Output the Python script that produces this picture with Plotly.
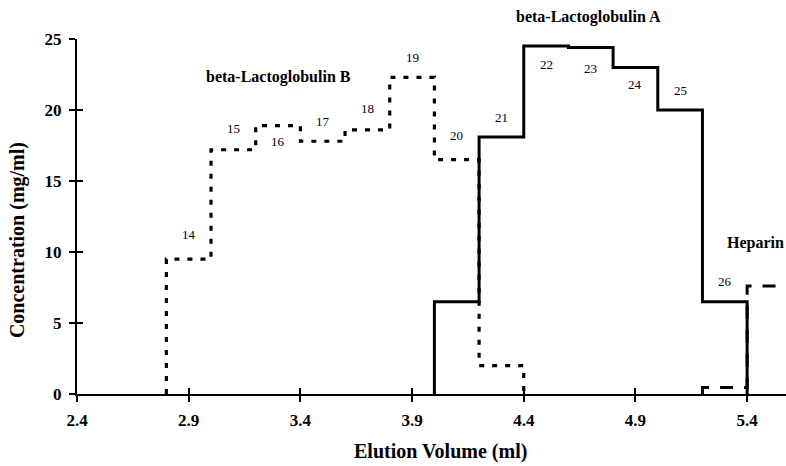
import plotly.graph_objects as go

# Fraction boundaries (ml) and measured concentrations (mg/ml)
b_edges = [2.8, 3.0, 3.2, 3.4, 3.6, 3.8, 4.0, 4.2, 4.4]
b_conc = [9.5, 17.2, 18.9, 17.8, 18.6, 22.3, 16.5, 2.0]

a_edges = [4.0, 4.2, 4.4, 4.6, 4.8, 5.0, 5.2, 5.4]
a_conc = [6.5, 18.1, 24.5, 24.4, 23.0, 20.0, 6.5]

hep_edges = [5.2, 5.4, 5.6]
hep_conc = [0.45, 7.6]

# Fraction numbers and the fraction they belong to (start volume)
fraction_ids = [14, 15, 16, 17, 18, 19, 20, 21, 22, 23, 24, 25, 26]
fraction_start = [2.8, 3.0, 3.2, 3.4, 3.6, 3.8, 4.0, 4.2, 4.4, 4.6, 4.8, 5.0, 5.2]
fraction_width = 0.2

x_ticks = [2.4, 2.9, 3.4, 3.9, 4.4, 4.9, 5.4]
y_ticks = [0, 5, 10, 15, 20, 25]

# label heights for the fraction numbers (layout only)
label_y = [11.2, 18.7, 17.75, 19.2, 20.1, 23.7, 18.2, 19.5, 23.2, 22.9, 21.8, 21.4, 7.9]

SERIF = "Liberation Serif"


def step_points(edges, vals, close=True):
    xs = [edges[0]] + edges[:-1] + [edges[-1]]
    ys = [0] + vals + [0 if close else vals[-1]]
    return xs, ys


fig = go.Figure()

bx, by = step_points(b_edges, b_conc)
fig.add_trace(go.Scatter(x=bx, y=by, mode="lines", line_shape="hv",
                         line=dict(color="black", width=3.2, dash="5px,8px"),
                         showlegend=False, hoverinfo="skip"))

ax_, ay_ = step_points(a_edges, a_conc)
fig.add_trace(go.Scatter(x=ax_, y=ay_, mode="lines", line_shape="hv",
                         line=dict(color="black", width=3),
                         showlegend=False, hoverinfo="skip"))

hx, hy = step_points(hep_edges, hep_conc, close=False)
fig.add_trace(go.Scatter(x=hx, y=hy, mode="lines", line_shape="hv",
                         line=dict(color="black", width=3, dash="13px,11px"),
                         showlegend=False, hoverinfo="skip"))

# invisible trace on the overlay axes that carry the inner tick halves
fig.add_trace(go.Scatter(x=[x_ticks[0]], y=[0], xaxis="x2", yaxis="y2",
                         mode="markers", marker=dict(opacity=0),
                         showlegend=False, hoverinfo="skip"))

annotations = []
for fid, start, ly in zip(fraction_ids, fraction_start, label_y):
    annotations.append(dict(x=start + fraction_width / 2, y=ly, xref="x", yref="y",
                            text=str(fid), showarrow=False,
                            font=dict(family=SERIF, size=13, color="black")))

title_font = dict(family=SERIF, size=16, color="black", weight="bold")
axis_title_font = dict(family=SERIF, size=20, color="black", weight="bold")
annotations += [
    dict(x=3.30, y=22.3, xref="x", yref="y", text="beta-Lactoglobulin B",
         showarrow=False, font=title_font),
    dict(x=0.721, y=1.063, xref="paper", yref="paper", text="beta-Lactoglobulin A",
         xanchor="center", yanchor="middle", showarrow=False, font=title_font),
    dict(x=1.0, y=10.6, xref="paper", yref="y", xanchor="right", yanchor="middle",
         text="Heparin", showarrow=False, font=title_font),
    dict(x=0.513, y=-0.163, xref="paper", yref="paper", text="Elution Volume (ml)",
         xanchor="center", yanchor="middle", showarrow=False, font=axis_title_font),
    dict(x=-0.083, y=0.434, xref="paper", yref="paper", text="Concentration (mg/ml)",
         xanchor="center", yanchor="middle", textangle=-90, showarrow=False,
         font=axis_title_font),
]

x_range = [2.4, 5.574]
y_range = [0, 25]
tick_font = dict(family=SERIF, size=17, color="black", weight="bold")

fig.update_layout(
    width=786, height=466,
    margin=dict(l=77, r=0, t=39, b=72),
    paper_bgcolor="white", plot_bgcolor="white",
    annotations=annotations,
    xaxis=dict(range=x_range, tickvals=x_ticks, ticktext=[f"{v:.1f}" for v in x_ticks],
               ticks="outside", ticklen=6, tickwidth=2, tickcolor="black",
               showline=True, linecolor="black", linewidth=2,
               showgrid=False, zeroline=False, tickfont=tick_font,
               ticklabelstandoff=4),
    yaxis=dict(range=y_range, tickvals=y_ticks,
               ticks="outside", ticklen=6, tickwidth=2, tickcolor="black",
               showline=True, linecolor="black", linewidth=2,
               showgrid=False, zeroline=False, tickfont=tick_font,
               ticklabelstandoff=4),
    xaxis2=dict(range=x_range, tickvals=x_ticks, overlaying="x", anchor="y2",
                ticks="inside", ticklen=6, tickwidth=2, tickcolor="black",
                showticklabels=False, showline=False, showgrid=False, zeroline=False),
    yaxis2=dict(range=y_range, tickvals=y_ticks, overlaying="y", anchor="x2",
                ticks="inside", ticklen=6, tickwidth=2, tickcolor="black",
                showticklabels=False, showline=False, showgrid=False, zeroline=False),
)

fig.write_html("out.html")
